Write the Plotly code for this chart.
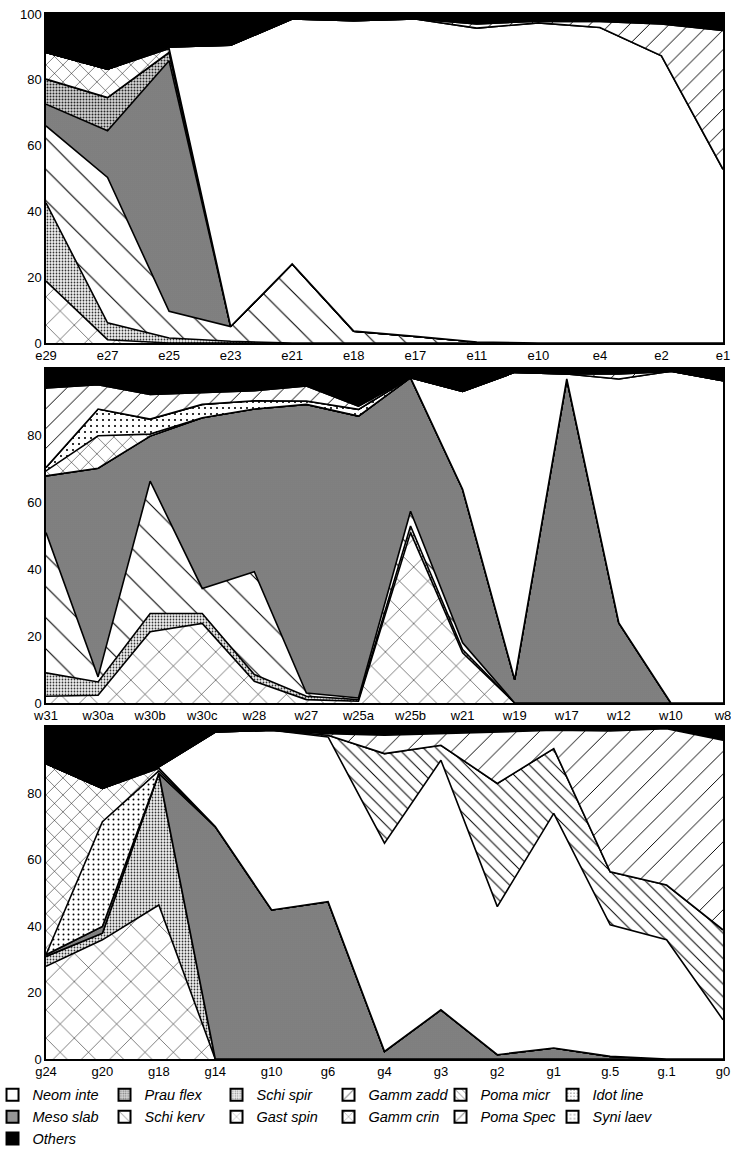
import plotly.graph_objects as go

# ---------------- sites (x categories) ----------------
E_SITES = ["e29", "e27", "e25", "e23", "e21", "e18", "e17", "e11", "e10", "e4", "e2", "e1"]
W_SITES = ["w31", "w30a", "w30b", "w30c", "w28", "w27", "w25a", "w25b", "w21", "w19",
           "w17", "w12", "w10", "w8"]
G_SITES = ["g24", "g20", "g18", "g14", "g10", "g6", "g4", "g3", "g2", "g1", "g.5", "g.1", "g0"]

# ---------------- relative abundance (%) : e-transect ----------------
E_GAST_SPIN = [18.8, 1.0, 0, 0, 0, 0, 0, 0, 0, 0, 0, 0]
E_SCHI_SPIR = [23.8, 5.1, 1.5, 0.5, 0, 0, 0, 0, 0, 0, 0, 0]
E_SCHI_KERV = [23.4, 44.2, 8.1, 4.5, 24.0, 3.6, 2.0, 0.3, 0, 0, 0, 0]
E_MESO_SLAB = [6.6, 14.2, 76.2, 0, 0, 0, 0, 0, 0, 0, 0, 0]
E_PRAU_FLEX = [7.6, 10.1, 2.5, 0, 0, 0, 0, 0, 0, 0, 0, 0]
E_GAMM_CRIN = [8.1, 8.6, 1.2, 0, 0, 0, 0, 0, 0, 0, 0, 0]
E_NEOM_INTE = [0, 0, 0.5, 85.5, 74.5, 94.4, 96.5, 95.4, 97.3, 95.9, 87.3, 52.8]
E_GAMM_ZADD = [0, 0, 0, 0, 0, 0, 0, 1.3, 0.5, 1.8, 9.7, 42.2]
E_OTHERS = [11.7, 16.8, 10.0, 9.5, 1.5, 2.0, 1.5, 3.0, 2.2, 2.3, 3.0, 5.0]

# ---------------- relative abundance (%) : w-transect ----------------
W_GAST_SPIN = [2.0, 2.3, 21.3, 23.8, 6.5, 1.0, 0.5, 51.0, 15.0, 0, 0, 0, 0, 0]
W_SCHI_SPIR = [7.0, 4.0, 5.5, 3.0, 2.0, 1.0, 0.5, 2.0, 1.0, 0, 0, 0, 0, 0]
W_SCHI_KERV = [42.0, 1.5, 39.6, 7.5, 30.8, 1.0, 0.5, 4.4, 2.0, 0, 0, 0, 0, 0]
W_MESO_SLAB = [17.0, 62.5, 13.5, 51.1, 48.7, 86.4, 84.4, 40.0, 46.0, 7.0, 97.0, 24.0, 0, 0]
W_GAMM_CRIN = [1.5, 9.7, 0.6, 0, 0, 0, 0, 0, 0, 0, 0, 0, 0, 0]
W_SYNI_LAEV = [1.0, 8.0, 4.5, 4.0, 2.5, 1.0, 2.0, 0, 0, 0, 0, 0, 0, 0]
W_NEOM_INTE = [0, 0, 0, 0, 0, 0, 0, 0, 29.3, 92.0, 1.5, 73.0, 99.3, 96.5]
W_GAMM_ZADD = [23.8, 7.3, 7.4, 3.5, 3.0, 4.5, 1.0, 0, 0, 0, 0, 1.5, 0, 0]
W_OTHERS = [5.7, 4.7, 7.6, 7.1, 6.5, 5.1, 11.1, 2.6, 6.7, 1.0, 1.5, 1.5, 0.7, 3.5]

# ---------------- relative abundance (%) : g-transect ----------------
G_GAST_SPIN = [27.9, 35.9, 46.4, 0, 0, 0, 0, 0, 0, 0, 0, 0, 0]
G_SCHI_SPIR = [3.0, 2.0, 39.6, 0, 0, 0, 0, 0, 0, 0, 0, 0, 0]
G_MESO_SLAB = [0.5, 2.0, 0, 70.0, 44.9, 47.4, 2.3, 14.8, 1.3, 3.3, 0.8, 0, 0]
G_IDOT_LINE = [0, 31.6, 0.8, 0, 0, 0, 0, 0, 0, 0, 0, 0, 0]
G_GAMM_CRIN = [57.6, 10.0, 0.8, 0, 0, 0, 0, 0, 0, 0, 0, 0, 0]
G_NEOM_INTE = [0, 0, 0.4, 28.5, 54.1, 49.6, 62.7, 75.2, 44.6, 70.7, 39.6, 35.9, 11.8]
G_POMA_MICR = [0, 0, 0, 0, 0, 0.5, 27.0, 4.5, 37.1, 19.5, 16.0, 16.5, 27.1]
G_POMA_SPEC = [0, 0, 0, 0, 0, 0.5, 5.5, 3.5, 15.3, 5.5, 42.4, 47.1, 57.1]
G_OTHERS = [11.0, 18.5, 12.0, 1.5, 1.0, 2.0, 2.5, 2.0, 1.7, 1.0, 1.2, 0.5, 4.0]

# stacking order, bottom to top
STACK = ["Gast spin", "Schi spir", "Schi kerv", "Meso slab", "Prau flex", "Idot line",
         "Gamm crin", "Syni laev", "Neom inte", "Poma micr", "Gamm zadd", "Poma Spec", "Others"]

PANELS = [
    ("e", E_SITES, "x", "y", {
        "Gast spin": E_GAST_SPIN, "Schi spir": E_SCHI_SPIR, "Schi kerv": E_SCHI_KERV,
        "Meso slab": E_MESO_SLAB, "Prau flex": E_PRAU_FLEX, "Gamm crin": E_GAMM_CRIN,
        "Neom inte": E_NEOM_INTE, "Gamm zadd": E_GAMM_ZADD, "Others": E_OTHERS}),
    ("w", W_SITES, "x2", "y2", {
        "Gast spin": W_GAST_SPIN, "Schi spir": W_SCHI_SPIR, "Schi kerv": W_SCHI_KERV,
        "Meso slab": W_MESO_SLAB, "Gamm crin": W_GAMM_CRIN, "Syni laev": W_SYNI_LAEV,
        "Neom inte": W_NEOM_INTE, "Gamm zadd": W_GAMM_ZADD, "Others": W_OTHERS}),
    ("g", G_SITES, "x3", "y3", {
        "Gast spin": G_GAST_SPIN, "Schi spir": G_SCHI_SPIR, "Meso slab": G_MESO_SLAB,
        "Idot line": G_IDOT_LINE, "Gamm crin": G_GAMM_CRIN, "Neom inte": G_NEOM_INTE,
        "Poma micr": G_POMA_MICR, "Poma Spec": G_POMA_SPEC, "Others": G_OTHERS}),
]

# fill styles (shape, tile size, solidity, foreground, background)
STYLE = {
    "Neom inte": ("", 8, 0.1, "black", "white"),
    "Prau flex": (".", 3, 0.35, "#262626", "#d6d6d6"),
    "Schi spir": (".", 3, 0.28, "#333333", "#efefef"),
    "Gamm zadd": ("/", 14, 0.07, "black", "white"),
    "Poma micr": ("\\", 9, 0.11, "black", "white"),
    "Idot line": (".", 5, 0.12, "black", "white"),
    "Meso slab": (".", 2, 0.35, "#303030", "#ababab"),
    "Schi kerv": ("\\", 22, 0.05, "black", "white"),
    "Gast spin": ("x", 20, 0.05, "black", "white"),
    "Gamm crin": ("x", 12, 0.08, "black", "white"),
    "Poma Spec": ("/", 16, 0.06, "black", "white"),
    "Syni laev": (".", 6, 0.1, "black", "white"),
    "Others": ("", 8, 0.1, "black", "black"),
}

# legend key patterns (smaller tiles so a line shows inside the key box)
KEY_STYLE = {
    "Gamm zadd": ("/", 12, 0.12), "Poma micr": ("\\", 6, 0.18), "Schi kerv": ("\\", 16, 0.1),
    "Gast spin": ("x", 14, 0.1), "Gamm crin": ("x", 8, 0.14), "Poma Spec": ("/", 12, 0.12),
    "Idot line": (".", 4, 0.15), "Syni laev": (".", 5, 0.12),
}

LEGEND_RANK = ["Neom inte", "Prau flex", "Schi spir", "Gamm zadd", "Poma micr", "Idot line",
               "Meso slab", "Schi kerv", "Gast spin", "Gamm crin", "Poma Spec", "Syni laev",
               "Others"]

fig = go.Figure()

for tag, sites, xa, ya, values in PANELS:
    for name in STACK:
        shape, size, sol, fg, bg = STYLE[name]
        vals = values.get(name, [0] * len(sites))
        fig.add_trace(go.Scatter(
            x=sites, y=vals, name=name, xaxis=xa, yaxis=ya,
            mode="lines", stackgroup=tag,
            line=dict(color="black", width=1.6, shape="linear"),
            fillcolor=bg,
            fillpattern=dict(shape=shape, size=size, solidity=sol,
                             fgcolor=fg, bgcolor=bg, fillmode="replace"),
            showlegend=False, hoverinfo="skip",
        ))

# legend keys
for rank, name in enumerate(LEGEND_RANK):
    shape, size, sol, fg, bg = STYLE[name]
    if name in KEY_STYLE:
        shape, size, sol = KEY_STYLE[name]
    fig.add_trace(go.Bar(
        x=[None], y=[None], name=name, xaxis="x3", yaxis="y3",
        marker=dict(color=bg, line=dict(color="black", width=1),
                    pattern=dict(shape=shape, size=size, solidity=sol,
                                 fgcolor=fg, bgcolor=bg)),
        legendrank=rank + 1, showlegend=True,
    ))

FONT = "Liberation Sans, Arial, Helvetica, sans-serif"

def xaxis_cfg(sites, anchor):
    return dict(type="category", range=[0, len(sites) - 1], anchor=anchor,
                showline=True, mirror=True, linecolor="black", linewidth=1.5,
                showgrid=False, zeroline=False, ticks="", automargin=False,
                tickfont=dict(family=FONT, size=13, color="black"), fixedrange=True)

def yaxis_cfg(domain, anchor, tickvals):
    return dict(domain=domain, anchor=anchor, range=[0, 100], tickvals=tickvals,
                showline=True, mirror=True, linecolor="black", linewidth=1.5,
                showgrid=False, zeroline=False, ticks="", automargin=False,
                tickfont=dict(family=FONT, size=13, color="black"), fixedrange=True)

fig.update_layout(
    width=731, height=1170,
    margin=dict(l=46, r=8, t=14, b=111, autoexpand=False),
    paper_bgcolor="white", plot_bgcolor="white",
    font=dict(family=FONT, color="black"),
    xaxis=xaxis_cfg(E_SITES, "y"),
    yaxis=yaxis_cfg([0.6852, 1.0], "x", [0, 20, 40, 60, 80, 100]),
    xaxis2=xaxis_cfg(W_SITES, "y2"),
    yaxis2=yaxis_cfg([0.3407, 0.6603], "x2", [0, 20, 40, 60, 80]),
    xaxis3=xaxis_cfg(G_SITES, "y3"),
    yaxis3=yaxis_cfg([0.0, 0.3177], "x3", [0, 20, 40, 60, 80]),
    showlegend=True,
    legend=dict(orientation="h", x=-0.079, xanchor="left", y=-0.019, yanchor="top",
                entrywidth=67, entrywidthmode="pixels", traceorder="normal",
                font=dict(family=FONT, size=14.5, color="black", style="italic"),
                bgcolor="rgba(0,0,0,0)", itemsizing="constant"),
)

fig.write_html("out.html")
